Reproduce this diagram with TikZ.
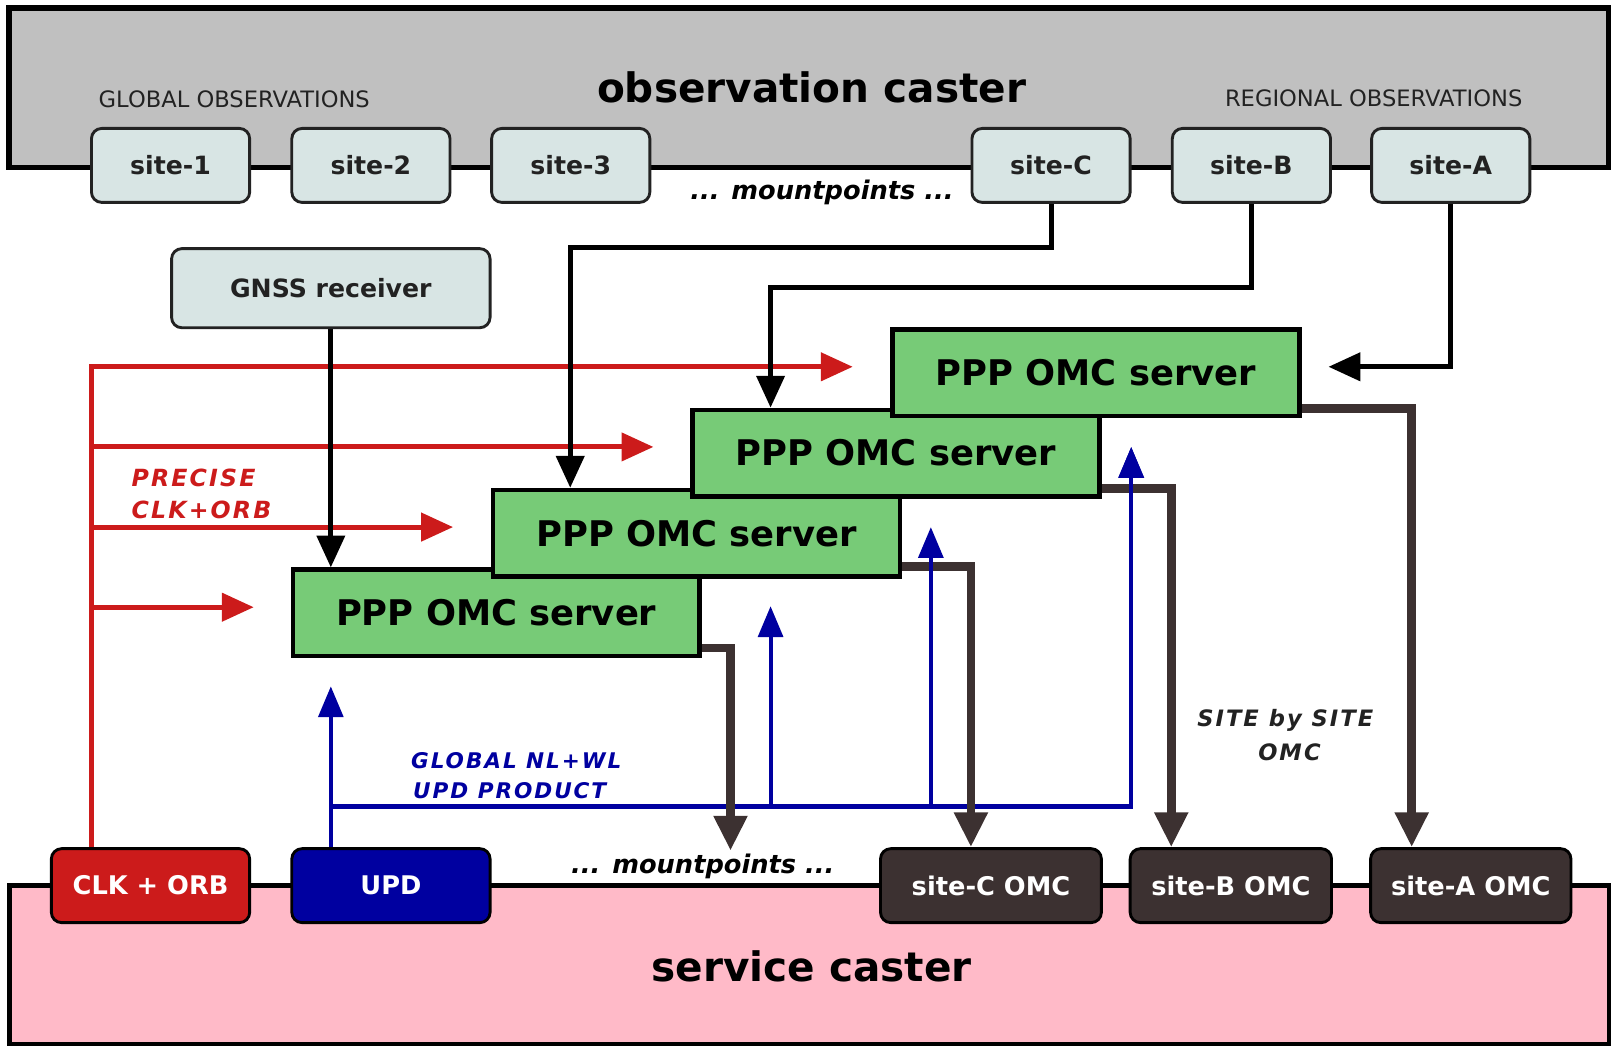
\documentclass[tikz,border=0pt]{standalone}
\usepackage{fontspec}
\setmainfont{DejaVu Sans}
\usetikzlibrary{arrows.meta}
\pgfdeclarelayer{bglayer}
\pgfdeclarelayer{linelayer}
\pgfsetlayers{bglayer,linelayer,main}
\definecolor{cgray}{HTML}{C0C0C0}
\definecolor{cpink}{HTML}{FFBAC8}
\definecolor{csite}{HTML}{D8E5E4}
\definecolor{cgreen}{HTML}{77CB77}
\definecolor{cred}{HTML}{CC1B1B}
\definecolor{cblue}{HTML}{0000A0}
\definecolor{cdark}{HTML}{3C3131}
\definecolor{ctext}{HTML}{222222}
\begin{document}
\begin{tikzpicture}[x=1pt,y=-1pt,
  sitebox/.style={draw=ctext, line width=2.8pt, fill=csite, rounded corners=10pt,
    minimum width=154pt, minimum height=72pt, inner sep=0pt,
    font={\fontsize{24.5}{26}\selectfont\bfseries}, text=ctext},
  omcbox/.style={draw=black, line width=2.8pt, rounded corners=10pt,
    minimum height=72pt, inner sep=0pt,
    font={\fontsize{25}{26}\selectfont\bfseries}, text=white},
  pppbox/.style={draw=black, line width=4.5pt, fill=cgreen,
    minimum width=396pt, minimum height=84pt, inner sep=0pt,
    font={\fontsize{34.4}{36}\selectfont\bfseries}},
  blkl/.style={draw=black, line width=4.8pt, -{Triangle[length=31pt,width=27pt]}},
  redl/.style={draw=cred, line width=4.8pt, -{Triangle[length=31pt,width=27pt]}},
  bluel/.style={draw=cblue, line width=4pt, -{Triangle[length=30pt,width=24pt]}},
  brownl/.style={draw=cdark, line width=8.5pt, -{Triangle[length=34pt,width=31pt]}},
  title/.style={font={\fontsize{39.5}{40}\selectfont\bfseries}},
  small/.style={font={\fontsize{22}{24}\selectfont}, text=ctext},
  mount/.style={font={\fontsize{25}{26}\selectfont\bfseries\itshape}},
  lbl/.style={font={\fontsize{#1}{#1}\selectfont\bfseries\itshape\addfontfeatures{LetterSpace=9}}, inner sep=0pt}
]
\useasboundingbox (0,0) rectangle (1568,1019);

% casters
\begin{pgfonlayer}{bglayer}
\draw[line width=5.5pt, fill=cgray] (9,8) rectangle (1566,163);
\draw[line width=4.5pt, fill=cpink] (9,862) rectangle (1566,1016);
\end{pgfonlayer}

% nodes
\node[sitebox] (s1) at (166,161) {site-1};
\node[sitebox] (s2) at (361,161) {site-2};
\node[sitebox] (s3) at (555.5,161) {site-3};
\node[sitebox] (sC) at (1023,161) {site-C};
\node[sitebox] (sB) at (1218,161) {site-B};
\node[sitebox] (sA) at (1412,161) {site-A};
\node[sitebox, minimum width=310pt, minimum height=77pt] (gnss) at (322,280.5) {GNSS receiver};

\node[omcbox, fill=cred, minimum width=193pt] (clk) at (146.5,862) {CLK + ORB};
\node[omcbox, fill=cblue, minimum width=193pt] (upd) at (380.5,862) {UPD};
\node[omcbox, fill=cdark, minimum width=215pt] (oC) at (964.5,862) {site-C OMC};
\node[omcbox, fill=cdark, minimum width=196pt] (oB) at (1198,862) {site-B OMC};
\node[omcbox, fill=cdark, minimum width=195pt] (oA) at (1431.5,862) {site-A OMC};

\node[pppbox] (p1) at (483,596.5) {PPP OMC server};
\node[pppbox] (p2) at (678,519) {PPP OMC server};
\node[pppbox] (p3) at (872,441) {PPP OMC server};
\node[pppbox] (p4) at (1066.5,363) {PPP OMC server};

% coordinates for free ends / bends
\coordinate (cC) at (555,241);
\coordinate (cB) at (750,280);
\coordinate (aA) at (1293,357);
\coordinate (rx) at (89,357);
\coordinate (a4) at (830,357);
\coordinate (a3) at (636,435);
\coordinate (a2) at (441,513);
\coordinate (a1) at (247,591);
\coordinate (b1) at (322,668);
\coordinate (bh) at (1101,785);
\coordinate (b2) at (750,590);
\coordinate (b3) at (906,513);
\coordinate (b4) at (1101,435);
\coordinate (mp) at (711,828);

\begin{pgfonlayer}{linelayer}
% red
\draw[redl] (rx |- clk.north) -- (rx) -- (a4);
\draw[redl] (rx |- a3) -- (a3);
\draw[redl] (rx |- a2) -- (a2);
\draw[redl] (rx |- a1) -- (a1);

% black
\draw[blkl] (sC.south) |- (cC) -- (cC |- p2.north);
\draw[blkl] (sB.south) |- (cB) -- (cB |- p3.north);
\draw[blkl] (sA.south) |- (aA);
\draw[blkl] (gnss.south) -- (gnss.south |- p1.north);

% blue trunk and horizontal
\draw[bluel] (b1 |- upd.north) -- (b1);
\draw[bluel] (b1 |- bh) -- (bh) -- (b4);

% brown
\draw[brownl] ([yshift=10pt]p1.south east) -| (mp);
\draw[brownl] ([yshift=12pt]p2.south east) -| ([xshift=-19.5pt]oC.north);
\draw[brownl] ([yshift=10pt]p3.south east) -| ([xshift=-58pt]oB.north);
\draw[brownl] ([yshift=10pt]p4.south east) -| ([xshift=-57.5pt]oA.north);

% blue verticals over brown
\draw[bluel] (b2 |- bh) -- (b2);
\draw[bluel] (b3 |- bh) -- (b3);
\draw[bluel] (bh) -- (b4);
\end{pgfonlayer}

% texts
\node[title] (tobs) at (790,85) {observation caster};
\node[title] (tsrv) at (790,941) {service caster};
\node[small] (tglob) at (228,97) {GLOBAL OBSERVATIONS};
\node[small] (treg) at (1337,96) {REGIONAL OBSERVATIONS};
\node[mount] (m1) at (800,187) {... mountpoints ...};
\node[mount] (m2) at (684,843) {... mountpoints ...};
\node[lbl=23, text=cred, anchor=west] (tp1) at (128,465) {PRECISE};
\node[lbl=23, text=cred, anchor=west] (tp2) at (128,496) {CLK+ORB};
\node[lbl=21, text=cblue, anchor=west] (tu1) at (400,740) {GLOBAL NL+WL};
\node[lbl=21, text=cblue, anchor=west] (tu2) at (402,770) {UPD PRODUCT};
\node[lbl=22, text=ctext] (ts1) at (1251,701) {SITE by SITE};
\node[lbl=22, text=ctext] (ts2) at (1255,732) {OMC};
\end{tikzpicture}
\end{document}
